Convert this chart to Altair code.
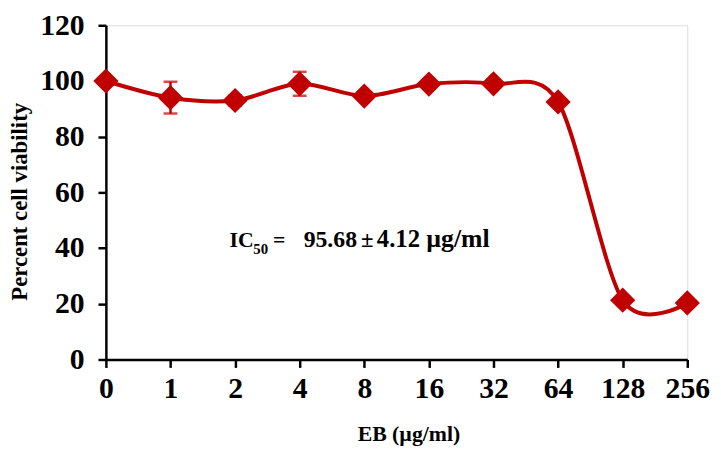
import altair as alt
import pandas as pd

doses = ["0", "1", "2", "4", "8", "16", "32", "64", "128", "256"]
viability = [100.0, 94.0, 93.0, 99.0, 94.6, 98.9, 99.0, 92.5, 21.3, 20.3]
errors = [0.0, 5.7, 1.8, 4.3, 1.0, 1.0, 0.8, 1.0, 1.2, 0.8]

df = pd.DataFrame({"dose": doses, "v": viability, "err": errors})
df["lo"] = df["v"] - df["err"]
df["hi"] = df["v"] + df["err"]

RED = "#C00000"
FONT = "Liberation Serif"

x = alt.X("dose:N", sort=doses, scale=alt.Scale(type="point", padding=0),
          axis=alt.Axis(title="EB (µg/ml)", labelAngle=0, labelFont=FONT, labelFontSize=30,
                        labelFontWeight="bold", labelColor="black", labelPadding=6,
                        titleFont=FONT, titleFontSize=22, titleFontWeight="bold",
                        titleColor="black", titleBaseline="alphabetic", titleY=82, titleX=306,
                        domainColor="black", domainWidth=2.5, tickColor="black",
                        tickWidth=2.5, tickSize=8, grid=False))
y = alt.Y("v:Q", scale=alt.Scale(domain=[0, 120]),
          axis=alt.Axis(title="Percent cell viability", values=[0, 20, 40, 60, 80, 100, 120],
                        labelFont=FONT, labelFontSize=30, labelFontWeight="bold",
                        labelColor="black", labelPadding=14,
                        titleFont=FONT, titleFontSize=23, titleFontWeight="bold",
                        titleColor="black", titleX=-75, titleY=178,
                        domainColor="black", domainWidth=2.5, tickColor="black",
                        tickWidth=2.5, tickSize=8, grid=False))

base = alt.Chart(df)
line = base.mark_line(color=RED, strokeWidth=4, interpolate="cardinal", tension=0.1).encode(x=x, y=y)
err = base.mark_rule(color=RED, strokeWidth=2.5).encode(x=x, y="lo:Q", y2="hi:Q")
cap_hi = base.mark_tick(color=RED, thickness=2.5, size=14, orient="horizontal").encode(x=x, y="hi:Q")
cap_lo = base.mark_tick(color=RED, thickness=2.5, size=14, orient="horizontal").encode(x=x, y="lo:Q")
pts = base.mark_point(shape="diamond", filled=True, size=650, color=RED, opacity=1).encode(x=x, y=y)

ann_df = pd.DataFrame({"k": [0]})


def piece(txt, px, py, fs):
    return alt.Chart(ann_df).mark_text(text=txt, font=FONT, fontSize=fs, fontWeight="bold",
                                       align="left", baseline="alphabetic", color="black").encode(
        x=alt.value(px), y=alt.value(py))


texts = [
    piece("IC", 125, 224, 22),
    piece("50", 149, 231, 15),
    piece("=", 169, 224, 22),
    piece("95.68", 200, 224, 24),
    piece("±", 258, 224, 23),
    piece("4.12", 274, 224, 25),
    piece("µg/ml", 324, 224, 26),
]

chart = alt.layer(line, err, cap_hi, cap_lo, pts, *texts).properties(
    width=588, height=338,
    autosize=alt.AutoSizeParams(type="none"),
    padding={"left": 99, "top": 15, "right": 26, "bottom": 85},
).configure_view(stroke=None).configure(background="white")

chart.save("out.html", embed_options={"renderer": "svg", "actions": False})
